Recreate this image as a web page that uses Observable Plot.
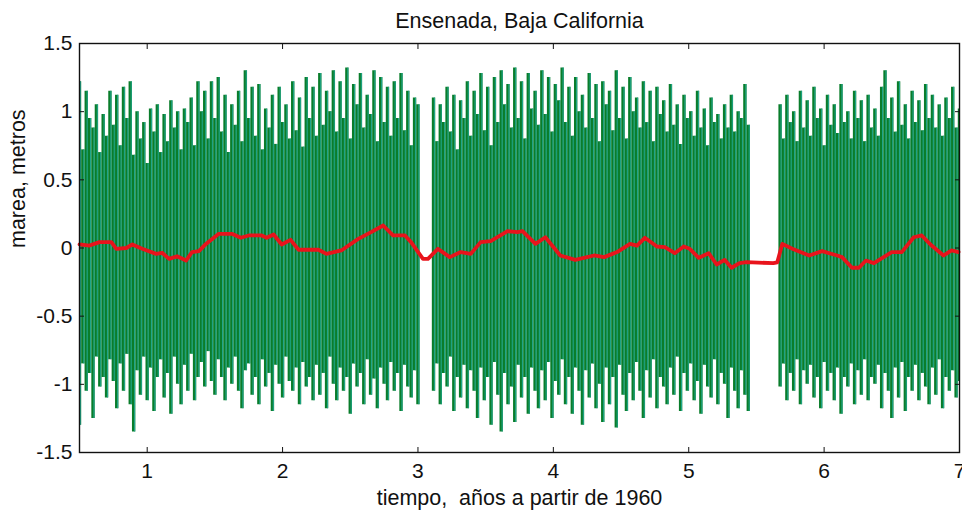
<!DOCTYPE html>
<html><head><meta charset="utf-8">
<script src="https://cdn.jsdelivr.net/npm/d3@7"></script>
<script src="https://cdn.jsdelivr.net/npm/@observablehq/plot@0.6"></script>
<style>
body{margin:0;background:#fff;}
#chart svg{font-family:"Liberation Sans",Arial,sans-serif;}
</style>
</head><body><div id="chart"></div>
<script>
const title = "Ensenada, Baja California";
const xLabel = "tiempo,  años a partir de 1960";
const yLabel = "marea, metros";
const xTicks = [1, 2, 3, 4, 5, 6, 7];
const yTicks = [-1.5, -1, -0.5, 0, 0.5, 1, 1.5];
const yTickLabels = ["-1.5", "-1", "-0.5", "0", "0.5", "1", "1.5"];

// sampled tide envelope (metres), one value per 0.025 yr, three record segments
const sampleStep = 0.025;
const seg1Start = 0.5, seg2Start = 3.115, seg3Start = 5.675;
const seg1High = [1.22,0.72,1.15,0.95,0.88,1.05,0.70,0.98,0.82,1.15,
0.90,1.12,0.75,1.18,0.95,1.22,0.68,1.00,0.80,0.92,
0.62,1.02,0.85,1.05,0.70,0.98,0.78,1.08,0.88,1.00,
0.72,1.02,0.92,1.10,0.75,1.22,1.00,1.15,0.80,1.22,
0.95,1.25,0.85,1.12,0.70,1.05,0.90,1.15,0.78,1.30,
0.95,1.18,0.82,1.20,0.72,1.02,0.88,1.12,0.76,1.18,
0.92,1.05,0.80,1.22,0.86,1.10,0.74,1.25,0.95,1.18,
0.82,1.28,0.90,1.15,1.00,1.30,0.85,1.22,0.95,1.32,
0.80,1.20,1.05,1.28,0.88,1.12,0.98,1.30,0.78,1.25,
0.92,1.18,0.82,1.22,0.95,1.28,0.86,1.15,0.75,1.10,1.05];
const seg1Low = [-1.30,-0.85,-1.05,-0.92,-1.25,-0.80,-1.02,-0.95,-1.10,-0.82,
-0.98,-1.18,-0.85,-1.05,-0.78,-1.15,-1.35,-0.90,-1.08,-0.80,
-1.12,-0.88,-1.20,-0.95,-0.82,-1.10,-0.92,-1.22,-0.80,-1.00,
-1.15,-0.86,-1.05,-0.78,-1.12,-0.95,-0.84,-1.02,-0.76,-0.98,
-1.08,-0.82,-0.95,-1.12,-0.88,-1.00,-0.80,-1.05,-1.18,-0.90,
-0.85,-1.08,-0.95,-1.15,-0.82,-1.02,-0.92,-1.20,-0.86,-1.00,
-1.10,-0.80,-0.98,-1.05,-0.88,-1.15,-0.84,-1.02,-0.95,-1.12,
-0.86,-1.08,-0.92,-1.18,-0.80,-1.00,-1.12,-0.88,-1.05,-0.95,
-1.22,-0.85,-1.02,-0.92,-1.15,-0.82,-1.08,-0.96,-1.18,-0.88,
-1.00,-1.12,-0.84,-1.05,-0.92,-1.20,-0.86,-1.02,-1.10,-0.90,-1.15];
const seg2High = [1.10,0.78,1.05,0.92,1.18,0.85,1.12,0.72,1.08,0.95,
1.22,0.82,1.15,0.98,1.28,0.86,1.18,0.75,1.25,0.92,
1.30,1.05,1.20,0.88,1.32,0.95,1.22,0.80,1.28,1.02,
1.15,0.90,1.30,0.98,1.25,0.85,1.20,1.08,1.32,0.92,
1.18,0.82,1.25,1.00,1.12,0.88,1.28,0.95,1.20,0.78,
1.22,1.05,1.15,0.86,1.30,0.95,1.18,0.80,1.25,1.00,
1.10,0.88,1.22,0.92,1.15,0.78,1.18,0.98,1.08,0.85,
1.20,0.90,1.05,0.76,1.12,0.95,1.00,0.82,1.15,0.88,
1.02,0.75,1.10,0.92,0.98,0.80,1.05,0.88,1.12,0.85,
1.00,0.95,1.20,0.90];
const seg2Low = [-1.05,-0.85,-1.15,-0.92,-1.02,-0.80,-1.20,-0.95,-1.10,-0.86,
-1.18,-0.90,-1.05,-1.25,-0.88,-1.12,-0.95,-1.30,-0.84,-1.08,
-1.35,-0.92,-1.15,-1.02,-1.28,-0.86,-1.10,-0.95,-1.22,-0.88,
-1.05,-1.18,-0.90,-1.12,-0.84,-1.25,-0.98,-1.08,-0.82,-1.15,
-0.95,-1.22,-0.88,-1.05,-1.30,-0.90,-1.10,-0.85,-1.18,-1.00,
-1.28,-0.88,-1.15,-0.95,-1.32,-0.86,-1.08,-1.20,-0.92,-1.12,
-0.84,-1.05,-1.25,-0.90,-1.10,-0.82,-1.18,-0.95,-1.02,-1.15,
-0.88,-1.08,-0.80,-1.20,-0.92,-1.05,-0.85,-1.12,-0.98,-1.22,
-0.86,-1.02,-1.10,-0.82,-1.15,-0.92,-1.00,-1.25,-0.88,-1.05,
-1.18,-0.90,-1.08,-1.20];
const seg3High = [1.05,0.80,1.12,0.92,1.00,0.78,1.15,0.88,1.08,0.82,
1.18,0.95,1.02,0.75,1.12,0.90,1.05,0.84,1.20,0.92,
1.00,0.80,1.15,0.95,1.08,0.78,1.12,0.88,1.02,0.82,
1.18,1.30,0.95,1.10,0.85,1.22,0.90,1.05,0.80,1.15,
0.92,1.08,0.86,1.20,0.95,1.12,0.88,1.05,0.82,1.10,
0.95,1.18,0.88,1.02];
const seg3Low = [-1.02,-0.85,-1.12,-0.92,-1.05,-0.82,-1.15,-0.90,-1.00,-0.86,
-1.10,-0.95,-1.18,-0.84,-1.05,-0.92,-1.12,-0.88,-1.22,-0.95,
-1.02,-0.85,-1.15,-0.90,-1.08,-0.82,-1.12,-0.95,-1.00,-0.86,
-1.18,-0.92,-1.05,-1.25,-0.88,-1.10,-0.84,-1.20,-0.95,-1.05,
-0.86,-1.12,-0.92,-1.02,-1.15,-0.88,-1.08,-0.82,-1.18,-0.95,
-1.05,-0.90,-1.10,-0.98];

// smoothed mean sea level (red curve)
const meanX = [0.5,0.574,0.647,0.735,0.772,0.846,0.890,0.963,1.066,1.110,1.162,1.221,1.287,1.331,1.382,1.434,1.529,1.625,1.691,1.750,1.846,1.882,1.934,1.993,2.059,2.118,2.213,2.265,2.324,2.434,2.559,2.654,2.743,2.816,2.904,2.949,3.037,3.074,3.147,3.235,3.316,3.390,3.463,3.537,3.662,3.735,3.772,3.868,3.941,4.051,4.162,4.301,4.375,4.471,4.566,4.618,4.676,4.765,4.824,4.897,4.963,5.007,5.074,5.147,5.206,5.265,5.316,5.375,5.426,5.625,5.654,5.691,5.765,5.890,5.985,6.096,6.132,6.206,6.257,6.309,6.368,6.500,6.574,6.662,6.721,6.794,6.882,6.941,6.993];
const meanY = [0.026,0.018,0.043,0.043,-0.006,0.0,0.026,-0.006,-0.043,-0.035,-0.08,-0.06,-0.092,-0.03,-0.023,0.03,0.104,0.104,0.075,0.092,0.092,0.075,0.099,0.026,0.06,-0.013,-0.013,-0.013,-0.043,-0.018,0.067,0.116,0.165,0.092,0.092,0.043,-0.08,-0.08,-0.006,-0.067,-0.03,-0.043,0.043,0.05,0.123,0.116,0.123,0.03,0.079,-0.055,-0.087,-0.055,-0.067,-0.03,0.03,0.018,0.075,0.011,0.006,-0.038,0.011,-0.006,-0.072,-0.038,-0.121,-0.087,-0.145,-0.111,-0.104,-0.111,-0.105,0.03,-0.006,-0.055,-0.023,-0.055,-0.067,-0.145,-0.145,-0.092,-0.111,-0.03,-0.03,0.079,0.092,0.018,-0.055,-0.018,-0.03];

const segments = [[seg1Start, seg1High, seg1Low], [seg2Start, seg2High, seg2Low], [seg3Start, seg3High, seg3Low]];
const tide = segments.flatMap(([start, hi, lo]) =>
  hi.map((h, i) => ({t: start + i * sampleStep, hi: h, lo: lo[i]})));
const mean = meanX.map((x, i) => ({x, y: meanY[i]}));

const font = {fontFamily: '"Liberation Sans",Arial,sans-serif', fontSize: 21.5, fill: "#111", lineAnchor: "middle"};

const chart = Plot.plot({
  width: 962, height: 512,
  marginLeft: 79, marginRight: 3, marginTop: 43, marginBottom: 60,
  style: {fontFamily: '"Liberation Sans",Arial,sans-serif', fontSize: "21px", color: "#111", background: "#fff"},
  x: {domain: [0.5, 7], label: null},
  y: {domain: [-1.5, 1.5], label: null},
  marks: [
    Plot.ruleX(tide, {x: "t", y1: "lo", y2: "hi", stroke: "#0a7d2b", strokeWidth: 3.4, clip: true}),
    Plot.ruleX(tide, {x: "t", y1: "lo", y2: "hi", stroke: "#26b0a2", strokeOpacity: 0.8, strokeWidth: 1.1, dx: 0.9, clip: true}),
    Plot.line(mean, {x: "x", y: "y", stroke: "#e8141c", strokeWidth: 3.8, strokeLinejoin: "round"}),
    Plot.frame({stroke: "#111", strokeWidth: 1.4}),
    Plot.axisX(xTicks, {anchor: "bottom", tickSize: -5, tickPadding: 16, tickFormat: d => String(d), label: null, fontSize: 21}),
    Plot.axisX(xTicks, {anchor: "top", tickSize: -5, tickFormat: () => "", label: null}),
    Plot.axisY(yTicks, {anchor: "left", tickSize: -5, tickPadding: 12, tickFormat: d => yTickLabels[yTicks.indexOf(d)], label: null, fontSize: 21}),
    Plot.axisY(yTicks, {anchor: "right", tickSize: -5, tickFormat: () => "", label: null}),
    Plot.text([title], {frameAnchor: "top", dy: -22, text: d => d, ...font}),
    Plot.text([xLabel], {frameAnchor: "bottom", dy: 46, text: d => d, ...font}),
    Plot.text([yLabel], {frameAnchor: "left", dx: -61, rotate: -90, text: d => d, ...font})
  ]
});
document.getElementById("chart").appendChild(chart);
</script>
</body></html>
